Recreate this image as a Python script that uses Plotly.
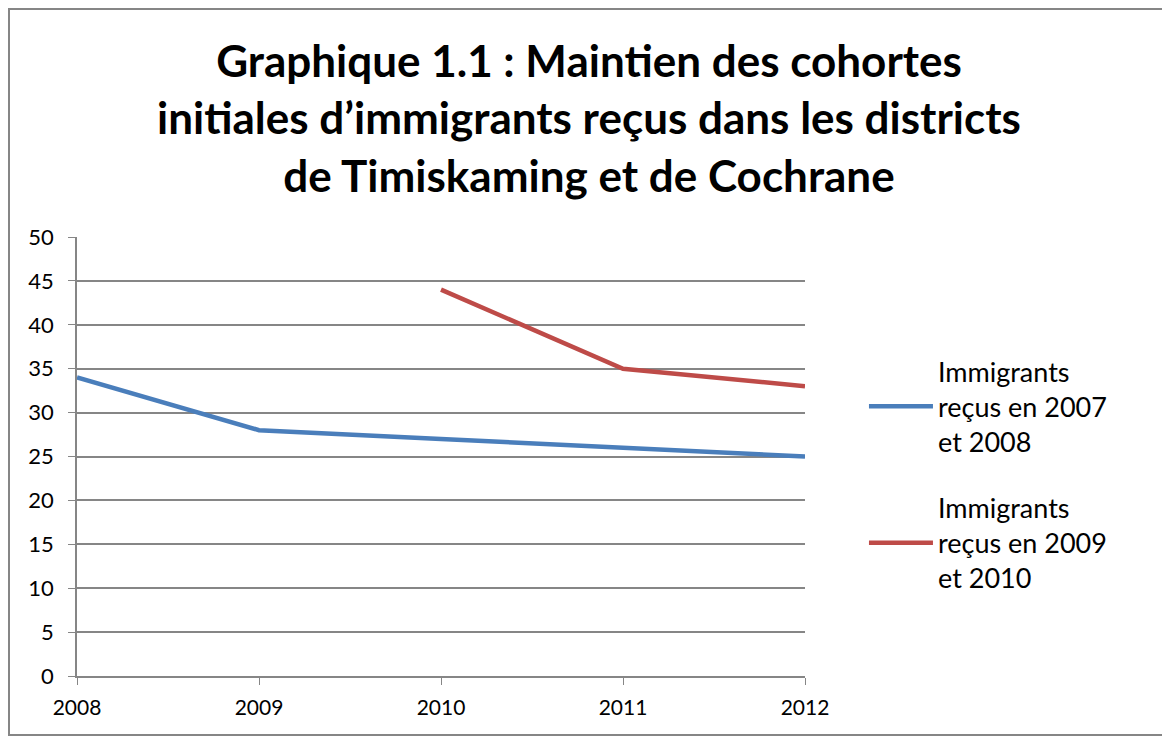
import plotly.graph_objects as go

years = [2008, 2009, 2010, 2011, 2012]
cohorte_2007_2008 = [34, 28, 27, 26, 25]
cohorte_2009_2010 = [None, None, 44, 35, 33]

series_names = ["Immigrants<br>reçus en 2007<br>et 2008",
                "Immigrants<br>reçus en 2009<br>et 2010"]
y_ticks = list(range(0, 51, 5))

fig = go.Figure()
fig.add_trace(go.Scatter(x=years, y=cohorte_2007_2008, mode="lines",
                         name=series_names[0], legendgroup="a",
                         line=dict(color="#4a7ebb", width=4.5)))
fig.add_trace(go.Scatter(x=years, y=cohorte_2009_2010, mode="lines",
                         name=series_names[1], legendgroup="b",
                         line=dict(color="#be4b48", width=4.5)))

# la page ajoute 8px de marge autour de la figure
fig.update_layout(
    width=1162, height=728,
    paper_bgcolor="white", plot_bgcolor="white",
    font=dict(family="Lato, Open Sans, sans-serif", color="black", size=21),
    margin=dict(l=69, r=365, t=229, b=60),
    title=dict(
        text="<b>Graphique 1.1 : Maintien des cohortes<br>initiales d’immigrants reçus dans les districts<br>de Timiskaming et de Cochrane</b>",
        x=0.5, xanchor="center", y=0.905, yanchor="top",
        font=dict(size=44, family="Lato, Open Sans, sans-serif"),
    ),
    legend=dict(x=1.081, y=0.749, xanchor="left", yanchor="top",
                font=dict(size=27), tracegroupgap=28, itemwidth=64,
                bgcolor="rgba(0,0,0,0)"),
    showlegend=True,
)

fig.update_xaxes(range=[2008, 2012], tickvals=years, showgrid=False,
                 showline=True, linecolor="#868686", linewidth=1.5,
                 ticks="outside", ticklen=7, tickcolor="#868686",
                 ticklabelstandoff=5,
                 zeroline=False, tickfont=dict(size=21))
fig.update_yaxes(range=[0, 50], tickvals=y_ticks, showgrid=True,
                 gridcolor="#868686", gridwidth=1.5,
                 showline=True, linecolor="#868686", linewidth=1.5,
                 ticks="outside", ticklen=7, tickcolor="#868686",
                 ticklabelstandoff=10,
                 zeroline=False, tickfont=dict(size=22))

# cadre du graphique
fig.add_shape(type="rect", xref="paper", yref="paper",
              x0=-68 / 728, x1=1092 / 728, y0=-59 / 439, y1=667 / 439,
              line=dict(color="#868686", width=2), layer="below")

fig.write_html("out.html")
